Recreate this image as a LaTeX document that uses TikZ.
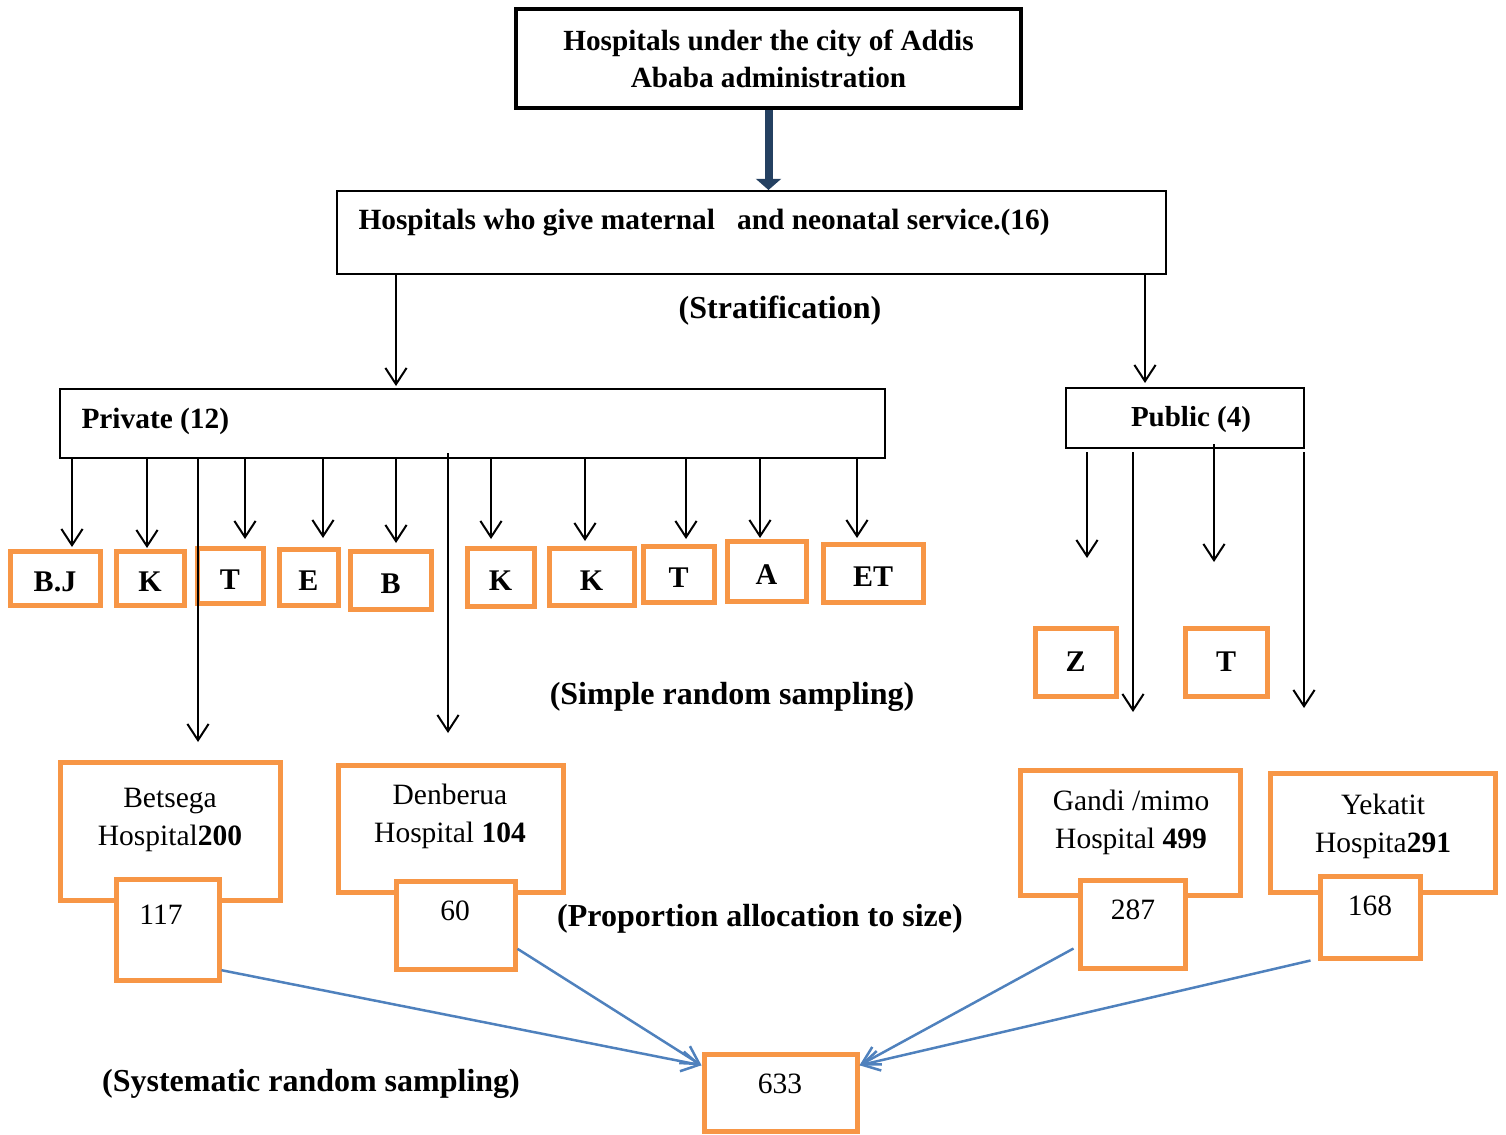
\documentclass[tikz,border=0pt]{standalone}
\usepackage{fontspec}
\setmainfont{Liberation Serif}
\usetikzlibrary{arrows.meta}
\definecolor{orng}{RGB}{247,150,70}
\definecolor{navyc}{RGB}{36,64,97}
\definecolor{bluel}{RGB}{79,129,189}
\begin{document}
\begin{tikzpicture}[x=0.4pt,y=-0.4pt,
  font=\fontsize{11.8}{15.4}\selectfont,
  sz/.style 2 args={minimum width={#1*0.4pt}, minimum height={#2*0.4pt}},
  bbox/.style={draw=black, line width=0.8pt, inner sep=0pt},
  obox/.style={draw=orng, line width=2pt, fill=white, inner sep=0pt},
  lbl/.style={inner sep=0pt, font=\fontsize{11.75}{15}\selectfont\bfseries},
  big/.style={inner sep=0pt, font=\fontsize{12.8}{15}\selectfont\bfseries},
  let/.style={obox, inner sep=0pt, font=\fontsize{12}{15}\selectfont\bfseries, text height=11pt, text depth=0pt},
  txt/.style={inner sep=0pt, align=center},
  arr/.style={line width=0.8pt, -{Straight Barb[length=6.5pt,width=8.5pt]}},
  barr/.style={draw=bluel, line width=1pt, -{Straight Barb[length=7pt,width=8pt]}},
  navyarr/.style={draw=navyc, line width=3.2pt, -{Triangle[length=4.5pt,width=10pt]}}
]
\useasboundingbox (0,0) rectangle (1506,1134);

% top boxes
\node[draw=black, line width=1.6pt, sz={505}{99}, align=center, font=\fontsize{11.7}{14.8}\selectfont\bfseries] (top) at (768.5,58.5)
  {Hospitals under the city of Addis\\Ababa administration};
\node[bbox, sz={829}{83}] (mat) at (751.5,232.5) {};
\node[lbl, anchor=west] (matT) at (358,223) {Hospitals who give maternal\ \ \ and neonatal service.(16)};
\draw[navyarr] (top.south) -- (top.south |- mat.north);

\node[big] (strat) at (780,311) {(Stratification)};

\node[bbox, sz={825}{69}] (pv) at (472.5,423.5) {};
\node[lbl, anchor=west] (pvT) at (81,421) {Private (12)};
\node[bbox, sz={238}{60}] (pub) at (1185,418) {};
\node[lbl, font=\fontsize{11.6}{15}\selectfont\bfseries] (pubT) at (1191,420) {Public (4)};

\coordinate (pa) at (396,386);
\coordinate (qa) at (1145,383);
\draw[arr] (mat.south -| pa) -- (pa);
\draw[arr] (mat.south -| qa) -- (qa);

% private sample boxes
\node[let, sz={90}{54}] (bj) at (55,578) {B.J};
\node[let, sz={68}{54}] (k1) at (150,578) {K};
\node[let, sz={66}{55}] (t1) at (230,575.5) {T};
\node[let, sz={59}{56}] (e1) at (308.5,577) {E};
\node[let, sz={81}{58}] (b1) at (390.5,580) {B};
\node[let, sz={67}{58}] (k2) at (500.5,577) {K};
\node[let, sz={85}{57}] (k3) at (591.5,576.5) {K};
\node[let, sz={71}{56}] (t2) at (678.5,574) {T};
\node[let, sz={79}{60}] (a1) at (766.5,571) {A};
\node[let, sz={100}{58}] (et) at (873,573) {ET};

% public sample boxes
\node[obox, font=\fontsize{12}{15}\selectfont\bfseries, sz={81}{68}] (z1) at (1075.5,662) {Z};
\node[obox, font=\fontsize{12}{15}\selectfont\bfseries, sz={82}{68}] (t3) at (1226,662) {T};

\node[big] (srs) at (732,697) {(Simple random sampling)};

% hospital boxes
\node[obox, sz={220}{138}] (bets) at (170,831) {};
\node[txt] (betsT) at (170,820) {Betsega\\Hospital\textbf{200}};
\node[obox, sz={225}{127}] (den) at (450.5,828.5) {};
\node[txt] (denT) at (450,816.5) {Denberua\\Hospital \textbf{104}};
\node[obox, sz={220}{125}] (gan) at (1130,832.5) {};
\node[txt] (ganT) at (1131,822.5) {Gandi /mimo\\Hospital \textbf{499}};
\node[obox, sz={225}{119}] (yek) at (1382.5,832.5) {};
\node[txt] (yekT) at (1383,826.5) {Yekatit\\Hospita\textbf{291}};

\node[obox, sz={103}{101}] (n117) at (167.5,929.5) {};
\node[txt] (n117T) at (161,915) {117};
\node[obox, sz={119}{88}] (n60) at (455.5,925) {};
\node[txt] (n60T) at (455,911) {60};
\node[obox, sz={105}{88}] (n287) at (1132.5,924) {};
\node[txt] (n287T) at (1133,910) {287};
\node[obox, sz={100}{82}] (n168) at (1370,917) {};
\node[txt] (n168T) at (1370,906) {168};

\node[big] (prop) at (760,919) {(Proportion allocation to size)};

\node[obox, sz={153}{77}] (n633) at (780.5,1092.5) {};
\node[txt] (n633T) at (780,1084) {633};

\node[big] (sys) at (311,1084) {(Systematic random sampling)};

% private arrows
\coordinate (c1) at (72,547);
\coordinate (c2) at (147,548);
\coordinate (c3) at (198,742);
\coordinate (c4) at (245,539);
\coordinate (c5) at (323,538);
\coordinate (c6) at (396,543);
\coordinate (c7) at (448,733);
\coordinate (c8) at (491,539);
\coordinate (c9) at (585,541);
\coordinate (c10) at (686,539);
\coordinate (c11) at (760,538);
\coordinate (c12) at (857,538);
\foreach \c in {c1,c2,c3,c4,c5,c6,c8,c9,c10,c11,c12}
  \draw[arr] (pv.south -| \c) -- (\c);
\draw[arr] ([yshift=2.4pt]pv.south -| c7) -- (c7);

% public arrows
\coordinate (d1) at (1087,558);
\coordinate (d2) at (1133,712);
\coordinate (d3) at (1214,562);
\coordinate (d4) at (1304,708);
\draw[arr] ([yshift=-1.2pt]pub.south -| d1) -- (d1);
\draw[arr] ([yshift=-1.2pt]pub.south -| d2) -- (d2);
\draw[arr] ([yshift=2pt]pub.south -| d3) -- (d3);
\draw[arr] ([yshift=-1.2pt]pub.south -| d4) -- (d4);

% blue arrows
\draw[barr] (n117.-37) -- (n633.161);
\draw[barr] (n60.-21) -- (n633.161);
\draw[barr] ([xshift=-1.6pt]n287.-156) -- (n633.19);
\draw[barr] ([xshift=-2.8pt]n168.south west) -- (n633.19);
\end{tikzpicture}
\end{document}
